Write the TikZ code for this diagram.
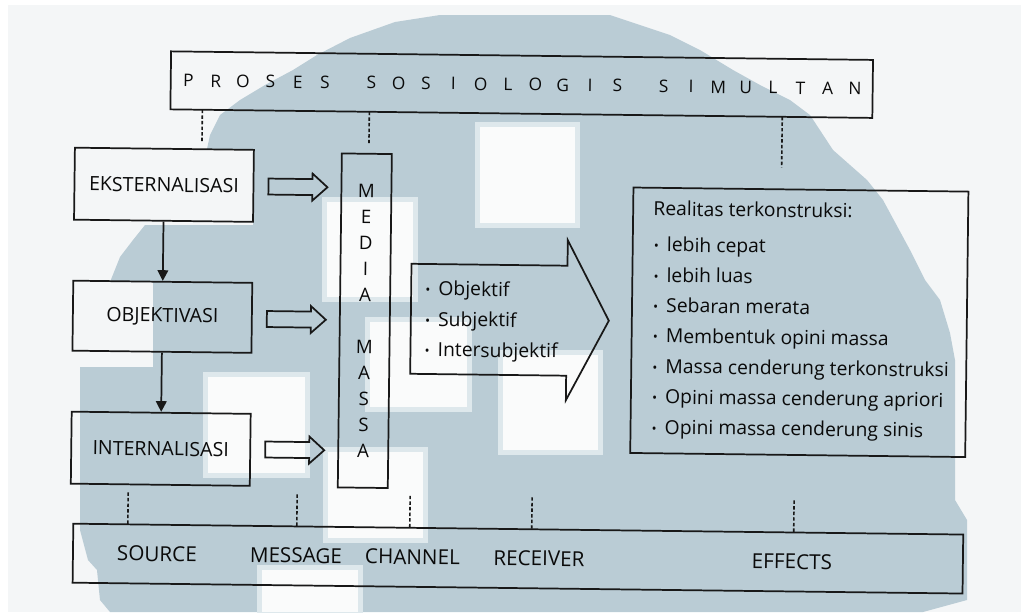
\documentclass[tikz,border=0pt]{standalone}
\usepackage{fontspec}
\setmainfont{Open Sans}
\usetikzlibrary{arrows.meta,calc}
\definecolor{wmblue}{RGB}{186,204,213}
\definecolor{wmpale}{RGB}{222,232,236}
\definecolor{pagebg}{RGB}{244,246,247}
\definecolor{wmwhite}{RGB}{250,251,251}
\definecolor{ink}{RGB}{24,24,24}
\definecolor{txt}{RGB}{10,10,10}
\newcommand\TtlL[1]{\makebox[20.5pt]{#1}}
\newcommand\TtlG{\hspace{14.25pt}}
\newcommand\MyBul{\raisebox{0.6pt}{\fontsize{10}{10}\selectfont •}\hspace{6pt}}
\begin{document}
\begin{tikzpicture}[x=0.75pt,y=-0.75pt,
  frame/.style={draw=ink, line width=1.3pt, inner sep=0pt, text=txt},
  boxtxt/.style={font=\fontsize{14.7}{17}\selectfont},
  itemtxt/.style={inner sep=0pt, anchor=base west, text=txt, font=\fontsize{14.5}{17}\selectfont},
  labtxt/.style={inner sep=0pt, anchor=base, text=txt, font=\fontsize{15.5}{18}\selectfont},
  dotline/.style={draw=ink, line width=1.2pt, dash pattern=on 2.6pt off 1.6pt},
  blockarrow/.style={draw=ink, line width=1.3pt, line join=miter},
  flowarrow/.style={draw=ink, line width=1.3pt, -{Triangle[length=8pt,width=8pt]}}]
\useasboundingbox (0,0) rectangle (1021,612);
% page and watermark
\fill[white] (0,0) rectangle (1021,612);
\fill[pagebg] (8,5) rectangle (1021,612);
\fill[wmblue] (440,15) -- (610,15) -- (640,25) -- (670,35) -- (700,50) -- (733,70)
  -- (760,85) -- (790,100) -- (810,115) -- (833,150) -- (867,180) -- (883,200)
  -- (910,250) -- (925,280) -- (940,300) -- (950,333) -- (955,360) -- (955,500)
  -- (967,520) -- (967,600) -- (923,612) -- (110,612) -- (100,600) -- (97,570)
  -- (88,560) -- (80,530) -- (80,367) -- (153,367) -- (153,282) -- (110,282)
  -- (120,257) -- (133,240) -- (145,225) -- (253,225) -- (253,149) -- (207,149)
  -- (210,135) -- (220,115) -- (240,100) -- (265,85) -- (293,70) -- (317,55)
  -- (350,38) -- (395,22) -- cycle;
\foreach \xa/\ya/\xb/\yb in {480/127/575/223, 327/202/413/297, 370/322/467/407,
    503/355/598/450, 208/377/305/473, 328/452/423/538, 262/570/358/612}{
  \fill[wmpale] (\xa-5,\ya-5) rectangle (\xb+5,\yb+5);
  \fill[wmwhite] (\xa,\ya) rectangle (\xb,\yb);
}
\begin{scope}[rotate around={-0.7:(510,306)}, transform shape]
  % boxes
  \node[frame, minimum width=526.5pt, minimum height=43.5pt, font=\fontsize{13}{15}\selectfont] (title) at (519,84.5)
    {\TtlL{P}\TtlL{R}\TtlL{O}\TtlL{S}\TtlL{E}\TtlL{S}\TtlG\TtlL{S}\TtlL{O}\TtlL{S}\TtlL{I}\TtlL{O}\TtlL{L}\TtlL{O}\TtlL{G}\TtlL{I}\TtlL{S}\TtlG\TtlL{S}\TtlL{I}\TtlL{M}\TtlL{U}\TtlL{L}\TtlL{T}\TtlL{A}\TtlL{N}};
  \node[frame, boxtxt, minimum width=134.25pt, minimum height=54pt] (ekst) at (162.5,189) {EKSTERNALISASI};
  \node[frame, boxtxt, minimum width=134.25pt, minimum height=52.5pt] (obj) at (162.5,321) {OBJEKTIVASI};
  \node[frame, boxtxt, minimum width=134.25pt, minimum height=54pt] (int) at (162.5,453) {INTERNALISASI};
  \node[frame, minimum width=37.5pt, minimum height=250.5pt, align=center,
        font=\fontsize{14}{19.5}\selectfont] (media) at (365,322.5)
    {M\\E\\D\\I\\A\\[19.5pt]M\\A\\S\\S\\A};
  \node[frame, minimum width=251.25pt, minimum height=199.1pt] (real) at (799.5,318.75) {};
  \node[frame, minimum width=667.5pt, minimum height=44.25pt] (bottom) at (521,558.5) {};
  % flow arrows
  \draw[flowarrow] (ekst.south) -- (obj.north);
  \draw[flowarrow] (obj.south) -- (int.north);
  % block arrows into media
  \foreach \c in {189.5,322,452.5}{
    \draw[blockarrow] (267,\c-8) -- (311,\c-8) -- (311,\c-13.5) -- (326,\c)
      -- (311,\c+13.5) -- (311,\c+8) -- (267,\c+8) -- cycle;
  }
  % big arrow
  \draw[blockarrow] (411,265) -- (567,265) -- (567,239.5) -- (609,319.5)
    -- (567,399.5) -- (567,375) -- (411,375) -- cycle;
  \node[itemtxt] (o1) at (425,296.4) {\MyBul Objektif};
  \node[itemtxt] (o2) at (425,327.0) {\MyBul Subjektif};
  \node[itemtxt] (o3) at (425,357.4) {\MyBul Intersubjektif};
  % realitas list
  \node[itemtxt] (rh) at (652,213.8) {Realitas terkonstruksi:};
  \foreach \t [count=\i] in {lebih cepat, lebih luas, Sebaran merata,
      Membentuk opini massa, Massa cenderung terkonstruksi,
      Opini massa cenderung apriori, Opini massa cenderung sinis}{
    \node[itemtxt] (r\i) at (653,249.8+30.4*\i-30.4) {\MyBul\t};
  }
  % bottom labels
  \node[labtxt] (src) at (160,565.5) {SOURCE};
  \node[labtxt] (msg) at (299,565.5) {MESSAGE};
  \node[labtxt] (chn) at (415.5,565.5) {CHANNEL};
  \node[labtxt] (rcv) at (542,565.5) {RECEIVER};
  \node[labtxt] (eff) at (795,565.5) {EFFECTS};
  % dotted lines from title
  \coordinate (ta1) at (200,113.5); \coordinate (tb1) at (200,147);
  \coordinate (ta2) at (367,113.5); \coordinate (tb2) at (367,146);
  \coordinate (ta3) at (780,113.5); \coordinate (tb3) at (780,164);
  \draw[dotline] (ta1) -- (tb1);
  \draw[dotline] (ta2) -- (tb2);
  \draw[dotline] (ta3) -- (tb3);
  % dotted lines onto bottom bar
  \foreach \x [count=\i] in {130.5,299.5,412.5,534.5,796.5}{
    \coordinate (ba\i) at (\x,497);
    \coordinate (bb\i) at (\x,529);
    \draw[dotline] (ba\i) -- (bb\i);
  }
\end{scope}
\end{tikzpicture}
\end{document}
